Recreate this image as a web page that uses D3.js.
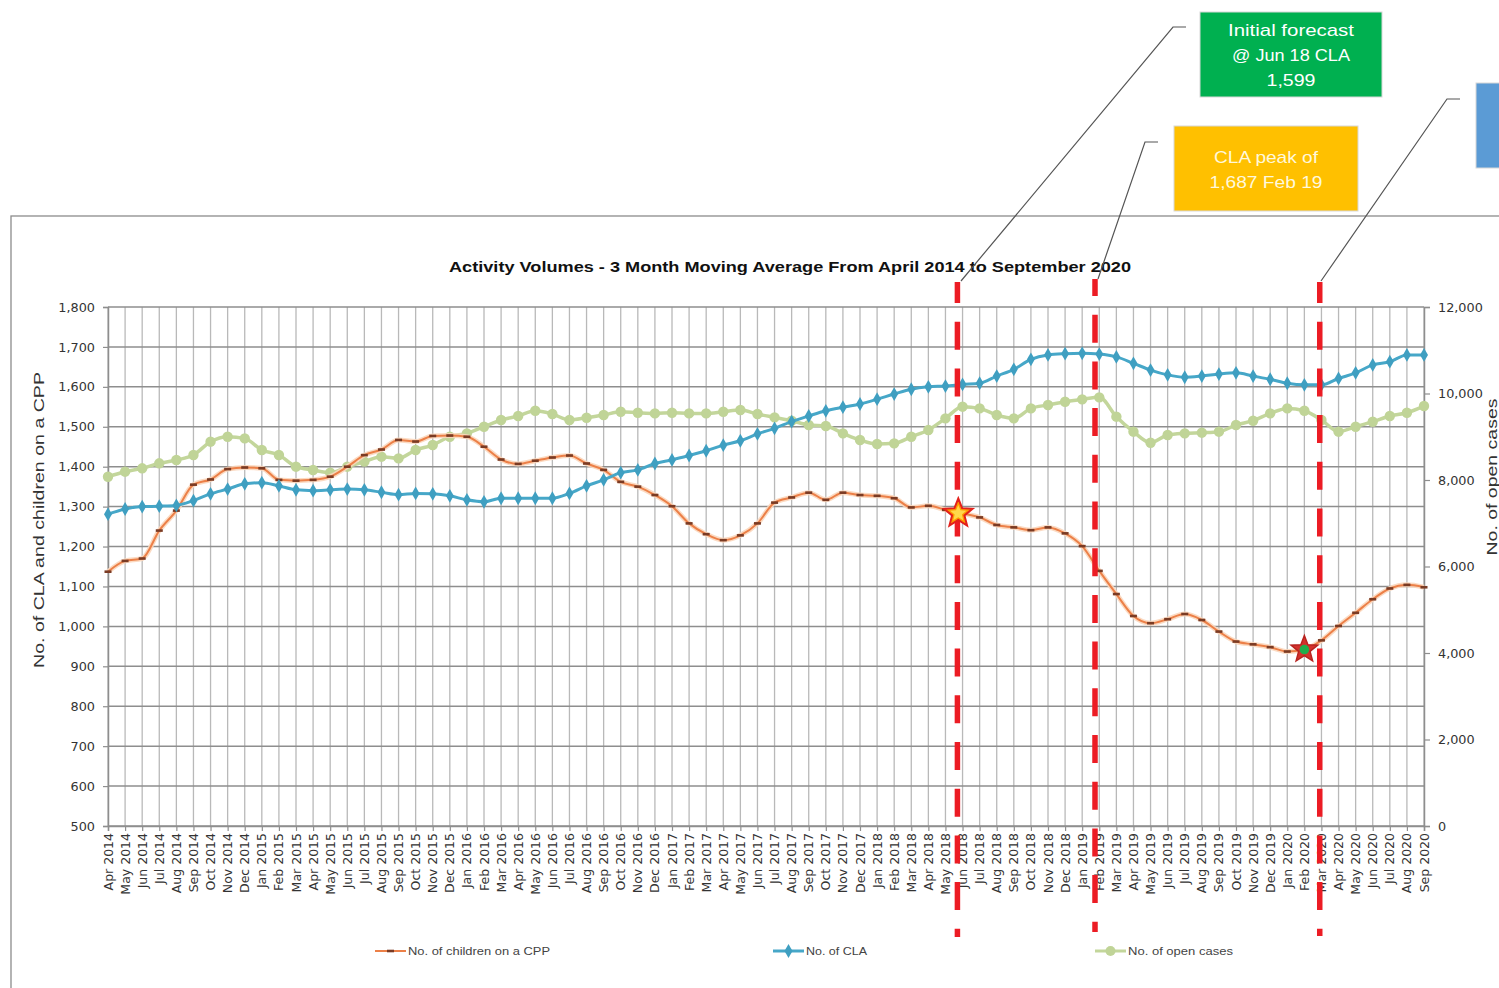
<!DOCTYPE html>
<html><head><meta charset="utf-8">
<script src="https://cdn.jsdelivr.net/npm/d3@7"></script>
<style>body{margin:0;background:#fff;overflow:hidden} svg{display:block}</style>
</head><body>
<svg id="c" width="1499" height="988"></svg>
<script>
const months = ["Apr 2014","May 2014","Jun 2014","Jul 2014","Aug 2014","Sep 2014","Oct 2014","Nov 2014","Dec 2014","Jan 2015","Feb 2015","Mar 2015","Apr 2015","May 2015","Jun 2015","Jul 2015","Aug 2015","Sep 2015","Oct 2015","Nov 2015","Dec 2015","Jan 2016","Feb 2016","Mar 2016","Apr 2016","May 2016","Jun 2016","Jul 2016","Aug 2016","Sep 2016","Oct 2016","Nov 2016","Dec 2016","Jan 2017","Feb 2017","Mar 2017","Apr 2017","May 2017","Jun 2017","Jul 2017","Aug 2017","Sep 2017","Oct 2017","Nov 2017","Dec 2017","Jan 2018","Feb 2018","Mar 2018","Apr 2018","May 2018","Jun 2018","Jul 2018","Aug 2018","Sep 2018","Oct 2018","Nov 2018","Dec 2018","Jan 2019","Feb 2019","Mar 2019","Apr 2019","May 2019","Jun 2019","Jul 2019","Aug 2019","Sep 2019","Oct 2019","Nov 2019","Dec 2019","Jan 2020","Feb 2020","Mar 2020","Apr 2020","May 2020","Jun 2020","Jul 2020","Aug 2020","Sep 2020"];

const cppValues = [1137,1164,1170,1240,1290,1355,1368,1394,1398,1396,1367,1365,1367,1375,1400,1429,1443,1467,1463,1477,1478,1475,1450,1418,1407,1415,1423,1428,1408,1392,1362,1350,1329,1301,1258,1231,1216,1228,1258,1310,1323,1335,1317,1335,1329,1327,1321,1298,1302,1292,1283,1273,1254,1248,1241,1248,1233,1201,1139,1081,1026,1008,1018,1031,1016,987,962,955,948,937,942,965,1001,1034,1068,1095,1104,1098];

const claValues = [1281,1294,1300,1301,1303,1315,1332,1344,1357,1360,1352,1342,1340,1342,1344,1342,1336,1330,1333,1332,1327,1317,1312,1321,1321,1321,1321,1333,1352,1367,1385,1392,1408,1417,1428,1440,1454,1465,1482,1496,1513,1527,1540,1549,1557,1569,1582,1594,1600,1602,1606,1609,1627,1644,1669,1680,1683,1684,1682,1675,1659,1642,1630,1624,1627,1632,1635,1627,1619,1609,1605,1605,1621,1635,1655,1663,1680,1680];

const openCases = [8076,8192,8270,8386,8462,8578,8886,9001,8963,8693,8578,8308,8231,8169,8308,8424,8539,8501,8693,8809,9001,9079,9232,9387,9479,9602,9525,9387,9440,9502,9579,9556,9540,9556,9540,9540,9579,9618,9525,9448,9371,9271,9248,9079,8924,8832,8847,9001,9156,9425,9695,9656,9502,9425,9656,9734,9810,9865,9911,9464,9117,8862,9040,9079,9094,9117,9271,9371,9541,9656,9602,9387,9117,9232,9348,9479,9556,9710];

const leftTicks = [500,600,700,800,900,1000,1100,1200,1300,1400,1500,1600,1700,1800];
const rightTicks = [0,2000,4000,6000,8000,10000,12000];
const seriesNames = ["No. of children on a CPP","No. of CLA","No. of open cases"];
const chartTitle = "Activity Volumes - 3 Month Moving Average From April 2014 to September 2020";
const leftAxisTitle = "No. of CLA and children on a CPP";
const rightAxisTitle = "No. of open cases";
const markerMonths = ["Jun 2018","Feb 2019","Mar 2020"];
const starMonths = ["Jun 2018","Feb 2020"];
const calloutGreen = ["Initial forecast","@ Jun 18 CLA","1,599"];
const calloutOrange = ["CLA peak of","1,687 Feb 19"];

// ---------- layout ----------
const svg = d3.select("#c");
const L = 108, R = 1424, T = 307, B = 826;
const x = d3.scalePoint().domain(months).range([L, R]);
const yL = d3.scaleLinear().domain([500, 1800]).range([B, T]);
const yR = d3.scaleLinear().domain([0, 12000]).range([B, T]);
const FONT = "'Liberation Sans', Arial, sans-serif";
const TFONT = "'DejaVu Sans', sans-serif";

// outer chart border
svg.append("rect").attr("x", 11).attr("y", 216).attr("width", 1600).attr("height", 900)
  .attr("fill", "#fff").attr("stroke", "#8c8c8c").attr("stroke-width", 1.3);

// title
svg.append("text").attr("x", 790).attr("y", 272).attr("text-anchor", "middle")
  .attr("font-family", FONT).attr("font-weight", "bold").attr("font-size", 15.5)
  .attr("textLength", 682).attr("lengthAdjust", "spacingAndGlyphs")
  .attr("fill", "#111").text(chartTitle);

// gridlines
const grid = svg.append("g");
grid.selectAll(".v").data(months).join("line")
  .attr("x1", d => x(d)).attr("x2", d => x(d)).attr("y1", T).attr("y2", B)
  .attr("stroke", "#b9b9b9").attr("stroke-width", 1.3);
grid.selectAll(".h").data(leftTicks).join("line")
  .attr("x1", L).attr("x2", R).attr("y1", d => yL(d)).attr("y2", d => yL(d))
  .attr("stroke", "#8e8e8e").attr("stroke-width", 1.5);

// axes
const axL = svg.append("g").attr("transform", `translate(${L},0)`)
  .call(d3.axisLeft(yL).tickValues(leftTicks).tickFormat(d3.format(",")).tickSize(5).tickPadding(8));
const axR = svg.append("g").attr("transform", `translate(${R},0)`)
  .call(d3.axisRight(yR).tickValues(rightTicks).tickFormat(d3.format(",")).tickSize(6).tickPadding(8));
const axB = svg.append("g").attr("transform", `translate(0,${B})`)
  .call(d3.axisBottom(x).tickSize(5).tickFormat(""));
[axL, axR, axB].forEach(a => {
  a.select(".domain").attr("stroke", "#8e8e8e").attr("stroke-width", 1.5);
  a.selectAll(".tick line").attr("stroke", "#8e8e8e").attr("stroke-width", 1.2);
  a.selectAll("text").attr("font-family", TFONT).attr("font-size", 12.8).attr("fill", "#333");
});
axB.selectAll("text").remove();
svg.append("g").selectAll("text").data(months).join("text")
  .attr("transform", d => `translate(${x(d) + 4.5},${B + 7}) rotate(-90)`)
  .attr("text-anchor", "end").attr("font-family", TFONT).attr("font-size", 12.5)
  .attr("fill", "#333").text(d => d);

// axis titles
svg.append("text").attr("transform", "translate(44,520) rotate(-90)").attr("text-anchor", "middle")
  .attr("font-family", FONT).attr("font-size", 15.5).attr("fill", "#333")
  .attr("textLength", 296).attr("lengthAdjust", "spacingAndGlyphs").text(leftAxisTitle);
svg.append("text").attr("transform", "translate(1497,477) rotate(-90)").attr("text-anchor", "middle")
  .attr("font-family", FONT).attr("font-size", 14.5).attr("fill", "#333")
  .attr("textLength", 157).attr("lengthAdjust", "spacingAndGlyphs").text(rightAxisTitle);

// series
const xi = (d, i) => x(months[i]);
const curve = d3.curveMonotoneX;
const lineL = d3.line().x(xi).y(d => yL(d)).curve(curve);
const lineR = d3.line().x(xi).y(d => yR(d)).curve(curve);

const colOpen = "#c3d69b", colCla = "#46a7c8", colCpp = "#ec8048";

// open cases (secondary)
svg.append("path").attr("d", lineR(openCases)).attr("fill", "none")
  .attr("stroke", colOpen).attr("stroke-width", 3.5);
svg.append("g").selectAll("circle").data(openCases).join("circle")
  .attr("cx", xi).attr("cy", d => yR(d)).attr("r", 5.2).attr("fill", "#c0d497");

// CPP
svg.append("path").attr("d", lineL(cppValues)).attr("fill", "none")
  .attr("stroke", "#fbd6bb").attr("stroke-width", 5).attr("opacity", 0.9);
svg.append("path").attr("d", lineL(cppValues)).attr("fill", "none")
  .attr("stroke", colCpp).attr("stroke-width", 2);
svg.append("g").selectAll("rect").data(cppValues).join("rect")
  .attr("x", (d, i) => xi(d, i) - 3.5).attr("y", d => yL(d) - 1.3)
  .attr("width", 7).attr("height", 2.6).attr("fill", "#7a3b24");

// CLA
svg.append("path").attr("d", lineL(claValues)).attr("fill", "none")
  .attr("stroke", colCla).attr("stroke-width", 3);
const diamond = d3.symbol().type(d3.symbolDiamond).size(55);
svg.append("g").selectAll("path").data(claValues).join("path")
  .attr("d", diamond).attr("transform", (d, i) => `translate(${xi(d, i)},${yL(d)})`)
  .attr("fill", "#3f9fc1");

// red dashed marker lines
const step = x.step();
const lineShift = {"Jun 2018": -0.3, "Feb 2019": -0.25, "Mar 2020": -0.1};
const lineSpan = {"Jun 2018": [282, 937, 7], "Feb 2019": [279, 932, 11], "Mar 2020": [282, 936, 7]};
svg.append("g").selectAll("line").data(markerMonths).join("line")
  .attr("x1", d => x(d) + lineShift[d] * step).attr("x2", d => x(d) + lineShift[d] * step)
  .attr("y1", d => lineSpan[d][0]).attr("y2", d => lineSpan[d][1])
  .attr("stroke", "#ec1c24").attr("stroke-width", 5.5)
  .attr("stroke-dasharray", "28,18.7").attr("stroke-dashoffset", d => lineSpan[d][2]);

// stars
function starPath(R, r) {
  const pts = [];
  for (let k = 0; k < 10; k++) {
    const a = -Math.PI / 2 + k * Math.PI / 5, rad = k % 2 ? r : R;
    pts.push([rad * Math.cos(a), rad * Math.sin(a)]);
  }
  return "M" + pts.map(p => p.join(",")).join("L") + "Z";
}
const starShift = {"Jun 2018": -0.25, "Feb 2020": 0};
starMonths.forEach((m, k) => {
  const i = months.indexOf(m);
  const g = svg.append("g").attr("transform", `translate(${x(m) + starShift[m] * step},${yL(cppValues[i])})`);
  if (k === 0) {
    g.append("path").attr("d", starPath(15, 6.5)).attr("fill", "#ff9a00").attr("stroke", "#e3201b").attr("stroke-width", 2);
    g.append("path").attr("d", starPath(8.5, 3.8)).attr("fill", "#ffd84a");
  } else {
    g.append("path").attr("d", starPath(14, 6)).attr("fill", "#d3322c").attr("stroke", "#b8231f").attr("stroke-width", 1.5);
    g.append("circle").attr("r", 4.8).attr("fill", "#1fae4b");
  }
});

// callouts
const conn = svg.append("g").attr("fill", "none").attr("stroke", "#555").attr("stroke-width", 1.2);
conn.append("polyline").attr("points", "1186,27 1173,27 961,281");
conn.append("polyline").attr("points", "1158,142 1145,142 1098,279");
conn.append("polyline").attr("points", "1460,99 1447,99 1321,281");

svg.append("rect").attr("x", 1200).attr("y", 12).attr("width", 182).attr("height", 85)
  .attr("fill", "#00b050").attr("stroke", "#d8d8d8").attr("stroke-width", 1);
calloutGreen.forEach((t, k) => {
  svg.append("text").attr("x", 1291).attr("y", 36 + k * 25).attr("text-anchor", "middle")
    .attr("font-family", FONT).attr("font-size", 17).attr("fill", "#fff")
    .attr("textLength", [126, 118, 49][k]).attr("lengthAdjust", "spacingAndGlyphs").text(t);
});
svg.append("rect").attr("x", 1174).attr("y", 126).attr("width", 184).attr("height", 85)
  .attr("fill", "#ffc000").attr("stroke", "#d8d8d8").attr("stroke-width", 1);
calloutOrange.forEach((t, k) => {
  svg.append("text").attr("x", 1266).attr("y", 163 + k * 25).attr("text-anchor", "middle")
    .attr("font-family", FONT).attr("font-size", 17).attr("fill", "#fff8dc")
    .attr("textLength", [104, 113][k]).attr("lengthAdjust", "spacingAndGlyphs").text(t);
});
svg.append("rect").attr("x", 1476).attr("y", 83).attr("width", 60).attr("height", 85)
  .attr("fill", "#5b9bd5").attr("stroke", "#d8d8d8").attr("stroke-width", 1);

// legend
const lg = svg.append("g");
const legendItems = [
  {name: seriesNames[0], x0: 375, col: colCpp, mk: "rect"},
  {name: seriesNames[1], x0: 773, col: colCla, mk: "diamond"},
  {name: seriesNames[2], x0: 1095, col: colOpen, mk: "circle"}
];
const legendLen = [142, 61, 105];
legendItems.forEach((it, k) => {
  lg.append("line").attr("x1", it.x0).attr("x2", it.x0 + 31).attr("y1", 951).attr("y2", 951)
    .attr("stroke", it.col).attr("stroke-width", k === 0 ? 2 : 3);
  const cx = it.x0 + 15.5;
  if (it.mk === "rect") lg.append("rect").attr("x", cx - 3.5).attr("y", 949.7).attr("width", 7).attr("height", 2.6).attr("fill", "#7a3b24");
  if (it.mk === "diamond") lg.append("path").attr("d", diamond).attr("transform", `translate(${cx},951)`).attr("fill", "#3f9fc1");
  if (it.mk === "circle") lg.append("circle").attr("cx", cx).attr("cy", 951).attr("r", 5).attr("fill", "#c0d497");
  lg.append("text").attr("x", it.x0 + 33).attr("y", 955).attr("font-family", FONT).attr("font-size", 11.5)
    .attr("fill", "#444").attr("textLength", legendLen[k]).attr("lengthAdjust", "spacingAndGlyphs").text(it.name);
});
</script>
</body></html>
